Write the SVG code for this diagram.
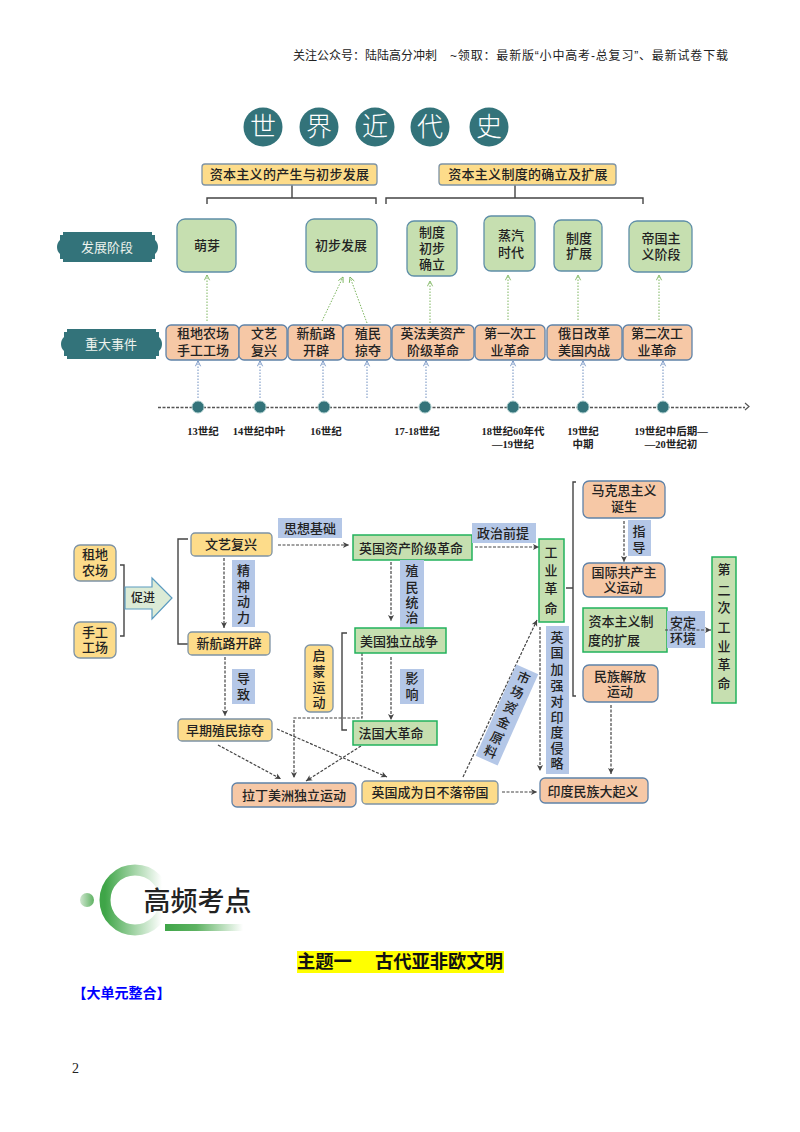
<svg xmlns="http://www.w3.org/2000/svg" width="800" height="1132" viewBox="0 0 800 1132">
<style>
text{font-family:"Liberation Sans","Noto Sans CJK SC","Noto Sans CJK JP",sans-serif;fill:#222;text-anchor:middle}
.g{fill:#c6dfb0;stroke:#5f8fa8;stroke-width:1.3}
.p{fill:#f6c8a6;stroke:#5f82a8;stroke-width:1.3}
.y{fill:#fddc8a;stroke:#7e93a5;stroke-width:1.3}
.b{fill:#b4c7e7}
.e{fill:#c6dfb0;stroke:#22b25c;stroke-width:1.5}
.t{fill:#33737a}
.d{fill:#33737a;stroke:#a5c8c8;stroke-width:1}
.l{font-size:13px;font-weight:500}
.w{fill:#fff;font-size:26px;font-weight:300}
.bw{fill:#eef3ee;font-size:13px}
.tl{font-family:"Liberation Serif","Noto Sans CJK SC",serif;font-size:10.5px;font-weight:bold;fill:#222}
.br{fill:none;stroke:#444;stroke-width:1.4}
.dk{fill:none;stroke:#444;stroke-width:1.2;stroke-dasharray:3 1.5;marker-end:url(#ad)}
.dg{fill:none;stroke:#7cb55e;stroke-width:1;stroke-dasharray:1.5 1.5;marker-end:url(#ag)}
.db{fill:none;stroke:#6f8fc0;stroke-width:1;stroke-dasharray:1.5 1.5;marker-end:url(#ab)}
</style>
<defs>
<marker id="ad" viewBox="0 0 8 8" refX="7" refY="4" markerWidth="8" markerHeight="8" markerUnits="userSpaceOnUse" orient="auto"><path d="M1 1L7 4L1 7L2.500 4Z" fill="#444"/></marker>
<marker id="ag" viewBox="0 0 8 8" refX="7" refY="4" markerWidth="7" markerHeight="7" markerUnits="userSpaceOnUse" orient="auto"><path d="M1 1L7 4L1 7" fill="none" stroke="#7cb55e"/></marker>
<marker id="ab" viewBox="0 0 8 8" refX="7" refY="4" markerWidth="7" markerHeight="7" markerUnits="userSpaceOnUse" orient="auto"><path d="M1 1L7 4L1 7" fill="none" stroke="#6f8fc0"/></marker>
<linearGradient id="ring"><stop offset="0" stop-color="#3fa548"/><stop offset="0.5" stop-color="#a5d5a8"/><stop offset="0.95" stop-color="#fff"/></linearGradient>
<linearGradient id="bar"><stop offset="0" stop-color="#3fa548"/><stop offset="0.4" stop-color="#5eb262"/><stop offset="1" stop-color="#fff"/></linearGradient>
<linearGradient id="dot"><stop offset="0" stop-color="#cfe6cf"/><stop offset="1" stop-color="#5eb262"/></linearGradient>
<path id="ban" d="M6 0H95V3H98V8C100 10 101 12 101 15C101 18 100 20 98 22V27H95V30H6V27H3V22C1 20 0 18 0 15C0 12 1 10 3 8V3H6Z"/>
</defs>
<rect width="800" height="1132" fill="#fff"/>
<text id="hdr" y="60" font-size="12" style="text-anchor:start"><tspan x="293">关注公众号：陆陆高分冲刺</tspan><tspan x="450" textLength="278" lengthAdjust="spacing">~领取：最新版“小中高考-总复习”、最新试卷下载</tspan></text>

<g id="title">
<circle class="t" cx="263" cy="127" r="19.500"/><text class="w" x="263" y="136">世</text>
<circle class="t" cx="319" cy="127" r="19.500"/><text class="w" x="319" y="136">界</text>
<circle class="t" cx="375" cy="127" r="19.500"/><text class="w" x="375" y="136">近</text>
<circle class="t" cx="430" cy="127" r="19.500"/><text class="w" x="430" y="136">代</text>
<circle class="t" cx="489" cy="127" r="19.500"/><text class="w" x="489" y="136">史</text>
</g>

<g id="connectors">
<path class="br" d="M207 204V198H376V204M292 185V198M386 204V198H643V204M515 185V198"/>
<path fill="none" stroke="#555" stroke-width="1.3" stroke-dasharray="3 1.5" d="M158 407.500H745"/>
<path fill="none" stroke="#555" stroke-width="1.2" d="M745 403L749 406.500L745 410"/>
<path class="dg" d="M207 321V275"/><path class="dg" d="M322 321L343 277"/><path class="dg" d="M367 323L350 277"/><path class="dg" d="M430 323V281"/><path class="dg" d="M508 320V275"/><path class="dg" d="M578 320V275"/><path class="dg" d="M659 320V275"/>
<path class="db" d="M198 398V361"/><path class="db" d="M260 398V361"/><path class="db" d="M323 398V361"/><path class="db" d="M367 398V361"/><path class="db" d="M426 398V361"/><path class="db" d="M513 398V361"/><path class="db" d="M583 398V361"/><path class="db" d="M663 398V361"/>
<path class="br" d="M120 565H124V636H120M188 539H178V644H188M347 633H342V730H347M566 588H573M576 482H573V696H576"/>
<path class="dk" d="M278 545H349"/><path class="dk" d="M224 558V628"/><path class="dk" d="M225 657V716"/><path class="dk" d="M218 745L281 779"/><path class="dk" d="M277 729L387 777"/><path class="dk" d="M362 653V718H294V778"/><path class="dk" d="M361 746L306 781"/><path class="dk" d="M391 562V621"/><path class="dk" d="M391 657V720"/><path class="dk" d="M475 547H539"/><path class="dk" d="M463 777L537 620"/><path class="dk" d="M540 627V771"/><path class="dk" d="M502 792H537"/><path class="dk" d="M624 521V562"/><path class="dk" d="M611 705V774"/>
</g>

<g id="yellow1"><rect class="y" x="202" y="164" width="175" height="21" rx="3"/><text class="l" x="289.500" y="179" letter-spacing="0.300">资本主义的产生与初步发展</text></g>
<g id="yellow2"><rect class="y" x="439" y="164" width="177" height="21" rx="3"/><text class="l" x="528" y="179" letter-spacing="0.300">资本主义制度的确立及扩展</text></g>

<g id="banner1"><use href="#ban" class="t" x="57" y="232"/><text class="bw" x="107" y="252">发展阶段</text></g>
<g id="banner2"><use href="#ban" class="t" x="61" y="329"/><text class="bw" x="111" y="349">重大事件</text></g>

<g id="s1"><rect class="g" x="177" y="219" width="59" height="53" rx="8"/><text class="l" x="207" y="250">萌芽</text></g>
<g id="s2"><rect class="g" x="306" y="219" width="71" height="53" rx="8"/><text class="l" x="341" y="250">初步发展</text></g>
<g id="s3"><rect class="g" x="407" y="221" width="50" height="55" rx="7"/><text class="l"><tspan x="432" y="237">制度</tspan><tspan x="432" y="253">初步</tspan><tspan x="432" y="269">确立</tspan></text></g>
<g id="s4"><rect class="g" x="484" y="216" width="51" height="55" rx="7"/><text class="l"><tspan x="511" y="240">蒸汽</tspan><tspan x="511" y="257">时代</tspan></text></g>
<g id="s5"><rect class="g" x="554" y="220" width="48" height="51" rx="7"/><text class="l"><tspan x="579" y="243">制度</tspan><tspan x="579" y="258">扩展</tspan></text></g>
<g id="s6"><rect class="g" x="629" y="221" width="63" height="51" rx="8"/><text class="l"><tspan x="661" y="243">帝国主</tspan><tspan x="661" y="259">义阶段</tspan></text></g>

<g id="e1"><rect class="p" x="166" y="325" width="73" height="35" rx="5"/><text class="l"><tspan x="203" y="338">租地农场</tspan><tspan x="203" y="355">手工工场</tspan></text></g>
<g id="e2"><rect class="p" x="239" y="325" width="48" height="35" rx="5"/><text class="l"><tspan x="264" y="338">文艺</tspan><tspan x="264" y="355">复兴</tspan></text></g>
<g id="e3"><rect class="p" x="288" y="325" width="55" height="35" rx="5"/><text class="l"><tspan x="316" y="338">新航路</tspan><tspan x="316" y="355">开辟</tspan></text></g>
<g id="e4"><rect class="p" x="343" y="325" width="48" height="35" rx="5"/><text class="l"><tspan x="368" y="338">殖民</tspan><tspan x="368" y="355">掠夺</tspan></text></g>
<g id="e5"><rect class="p" x="392" y="325" width="82" height="35" rx="5"/><text class="l"><tspan x="433" y="338">英法美资产</tspan><tspan x="433" y="355">阶级革命</tspan></text></g>
<g id="e6"><rect class="p" x="475" y="325" width="70" height="35" rx="5"/><text class="l"><tspan x="510" y="338">第一次工</tspan><tspan x="510" y="355">业革命</tspan></text></g>
<g id="e7"><rect class="p" x="547" y="325" width="75" height="35" rx="5"/><text class="l"><tspan x="584" y="338">俄日改革</tspan><tspan x="584" y="355">美国内战</tspan></text></g>
<g id="e8"><rect class="p" x="623" y="325" width="69" height="35" rx="5"/><text class="l"><tspan x="657" y="338">第二次工</tspan><tspan x="657" y="355">业革命</tspan></text></g>

<g id="timeline">
<circle class="d" cx="198" cy="407" r="6"/><circle class="d" cx="260" cy="407" r="6"/><circle class="d" cx="324" cy="407" r="6"/><circle class="d" cx="425" cy="407" r="6"/><circle class="d" cx="513" cy="407" r="6"/><circle class="d" cx="583" cy="407" r="6"/><circle class="d" cx="663" cy="407" r="6"/>
<text class="tl" x="203" y="435">13世纪</text><text class="tl" x="259" y="435">14世纪中叶</text><text class="tl" x="326" y="435">16世纪</text><text class="tl" x="417" y="435">17-18世纪</text><text class="tl"><tspan x="513" y="435">18世纪60年代</tspan><tspan x="513" y="448">—19世纪</tspan></text><text class="tl"><tspan x="583" y="435">19世纪</tspan><tspan x="583" y="448">中期</tspan></text><text class="tl"><tspan x="671" y="435">19世纪中后期—</tspan><tspan x="671" y="448">—20世纪初</tspan></text>
</g>

<g id="n1"><rect class="y" x="74" y="545" width="42" height="36" rx="6"/><text class="l"><tspan x="95" y="559">租地</tspan><tspan x="95" y="575">农场</tspan></text></g>
<g id="n2"><rect class="y" x="74" y="622" width="42" height="36" rx="6"/><text class="l"><tspan x="95" y="637">手工</tspan><tspan x="95" y="652">工场</tspan></text></g>
<g id="promote"><path d="M125 587H152V578L172 598L152 619V609H125Z" fill="#dcebd6" stroke="#5b9bc0" stroke-width="1.200"/><text class="l" style="font-size:12px" x="143" y="602">促进</text></g>
<g id="n3"><rect class="y" x="191" y="533" width="81" height="23" rx="4"/><text class="l" x="231" y="549">文艺复兴</text></g>
<g id="n4"><rect class="y" x="188" y="632" width="82" height="23" rx="4"/><text class="l" x="229" y="648">新航路开辟</text></g>
<g id="n5"><rect class="y" x="178" y="719" width="94" height="22" rx="4"/><text class="l" x="225" y="735">早期殖民掠夺</text></g>
<g id="n6"><rect class="p" x="232" y="783" width="124" height="24" rx="5"/><text class="l" x="294" y="800">拉丁美洲独立运动</text></g>
<g id="n7"><rect class="y" x="362" y="781" width="136" height="23" rx="4"/><text class="l" x="430" y="797">英国成为日不落帝国</text></g>
<g id="n8"><rect class="e" x="353" y="535" width="119" height="25"/><text class="l" x="411" y="553">英国资产阶级革命</text></g>
<g id="n9"><rect class="e" x="355" y="628" width="91" height="25"/><text class="l" x="399" y="646">美国独立战争</text></g>
<g id="n10"><rect class="e" x="353" y="721" width="84" height="24"/><text class="l" x="391" y="738">法国大革命</text></g>
<g id="n11"><rect class="e" x="539" y="539" width="25" height="83"/><text class="l"><tspan x="551" y="557">工</tspan><tspan x="551" y="575">业</tspan><tspan x="551" y="593">革</tspan><tspan x="551" y="613">命</tspan></text></g>
<g id="n12"><rect class="p" x="583" y="481" width="82" height="37" rx="6"/><text class="l"><tspan x="624" y="495">马克思主义</tspan><tspan x="624" y="511">诞生</tspan></text></g>
<g id="n13"><rect class="p" x="583" y="563" width="82" height="34" rx="6"/><text class="l"><tspan x="624" y="577">国际共产主</tspan><tspan x="623" y="592">义运动</tspan></text></g>
<g id="n14"><rect class="e" x="583" y="608" width="84" height="44"/><text class="l"><tspan x="621" y="626">资本主义制</tspan><tspan x="614" y="645">度的扩展</tspan></text></g>
<g id="n15"><rect class="p" x="583" y="665" width="75" height="37" rx="6"/><text class="l"><tspan x="620" y="681">民族解放</tspan><tspan x="620" y="696">运动</tspan></text></g>
<g id="n16"><rect class="e" x="712" y="557" width="24" height="146"/><text class="l"><tspan x="724" y="574">第</tspan><tspan x="724" y="595">二</tspan><tspan x="724" y="612">次</tspan><tspan x="724" y="632">工</tspan><tspan x="724" y="651">业</tspan><tspan x="724" y="669">革</tspan><tspan x="724" y="688">命</tspan></text></g>
<g id="n17"><rect class="p" x="540" y="778" width="108" height="25" rx="5"/><text class="l" x="593" y="796">印度民族大起义</text></g>
<g id="n18"><rect class="y" x="305" y="645" width="28" height="67" rx="5"/><text class="l"><tspan x="319" y="660">启</tspan><tspan x="319" y="676">蒙</tspan><tspan x="319" y="692">运</tspan><tspan x="319" y="707">动</tspan></text></g>

<g id="labels">
<rect class="b" x="278" y="518" width="64" height="20"/><text class="l" x="310" y="533">思想基础</text>
<rect class="b" x="232" y="560" width="23" height="67"/><text class="l"><tspan x="243.500" y="575">精</tspan><tspan x="243.500" y="591">神</tspan><tspan x="243.500" y="606">动</tspan><tspan x="243.500" y="622">力</tspan></text>
<rect class="b" x="232" y="669" width="23" height="35"/><text class="l"><tspan x="243.500" y="683">导</tspan><tspan x="243.500" y="699">致</tspan></text>
<rect class="b" x="400" y="560" width="24" height="67"/><text class="l"><tspan x="412" y="575">殖</tspan><tspan x="412" y="592">民</tspan><tspan x="412" y="607">统</tspan><tspan x="412" y="622">治</tspan></text>
<rect class="b" x="400" y="669" width="24" height="35"/><text class="l"><tspan x="412" y="683">影</tspan><tspan x="412" y="699">响</tspan></text>
<rect class="b" x="472" y="523" width="64" height="20"/><text class="l" x="503" y="538">政治前提</text>
<rect class="b" x="628" y="520" width="23" height="36"/><text class="l"><tspan x="639" y="536">指</tspan><tspan x="639" y="552">导</tspan></text>
<rect class="b" x="667" y="611" width="38" height="37"/><text class="l"><tspan x="683" y="627">安定</tspan><tspan x="683" y="643">环境</tspan></text>
<rect class="b" x="546" y="626" width="23" height="148"/><text class="l"><tspan x="557" y="642">英</tspan><tspan x="557" y="657">国</tspan><tspan x="557" y="674">加</tspan><tspan x="557" y="690">强</tspan><tspan x="557" y="706">对</tspan><tspan x="557" y="722">印</tspan><tspan x="557" y="737">度</tspan><tspan x="557" y="753">侵</tspan><tspan x="557" y="768">略</tspan></text>
<g transform="translate(507 715) rotate(24)"><rect class="b" x="-12" y="-50" width="24" height="100"/><text class="l"><tspan x="0" y="-36">市</tspan><tspan x="0" y="-20">场</tspan><tspan x="0" y="-3">资</tspan><tspan x="0" y="13">金</tspan><tspan x="0" y="30">原</tspan><tspan x="0" y="45">料</tspan></text><text style="font-size:9px"><tspan x="8" y="-13">、</tspan><tspan x="8" y="20">、</tspan></text></g>
</g>
<path class="dk" d="M665 630H711" id="c-env"/>

<g id="logo">
<circle cx="135" cy="900" r="30" fill="none" stroke="url(#ring)" stroke-width="11"/>
<circle cx="87" cy="900" r="7" fill="url(#dot)"/>
<rect x="165" y="924" width="78" height="7" fill="url(#bar)"/>
<text x="197.500" y="911" font-size="27" font-weight="500" id="logot">高频考点</text>
</g>
<rect x="297" y="951" width="207" height="22" fill="#ff0"/>
<text y="968" font-size="18.300" font-weight="bold" style="text-anchor:start;fill:#111"><tspan x="297">主题一</tspan><tspan x="375">古代亚非欧文明</tspan></text>
<text x="121.500" y="998" font-size="14" font-weight="bold" style="fill:#00f">【大单元整合】</text>
<text x="75.500" y="1073" font-size="14" style="font-family:'Liberation Serif',serif">2</text>
</svg>
